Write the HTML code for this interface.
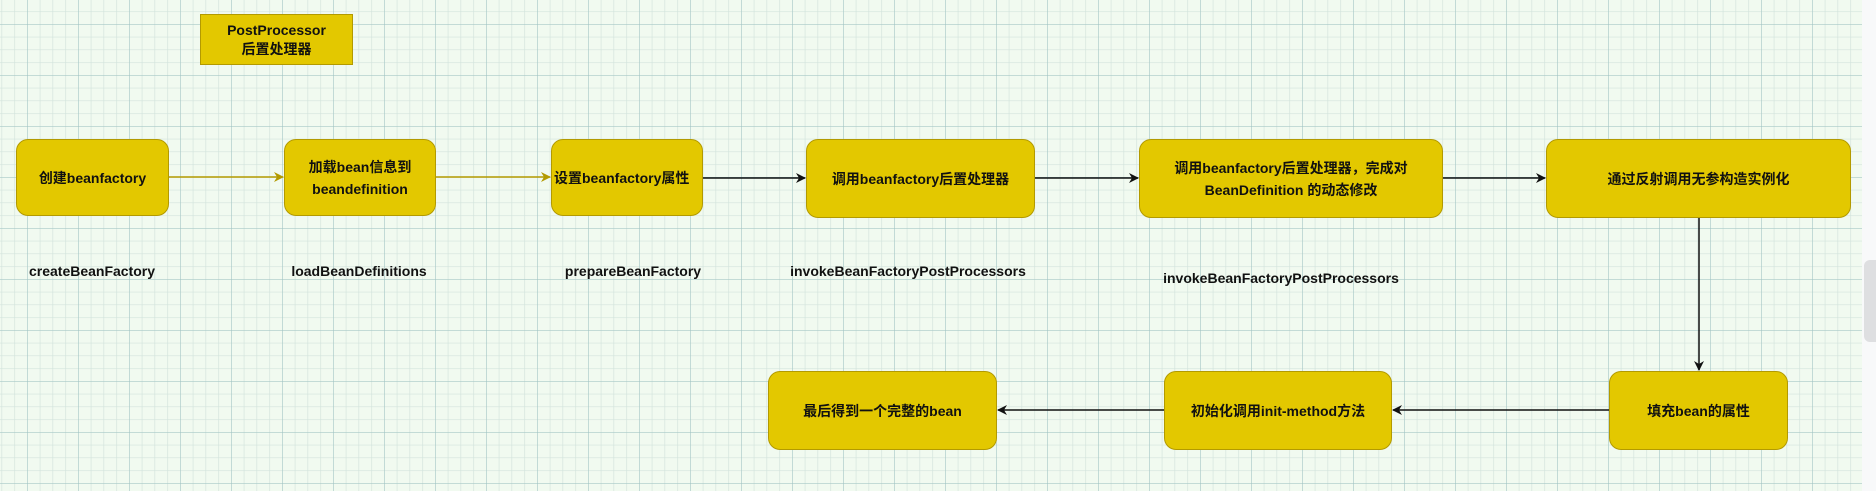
<!DOCTYPE html>
<html><head><meta charset="utf-8"><style>
body{margin:0;width:1876px;height:491px;overflow:hidden;background:#f8f9fa;font-family:"Liberation Sans","Noto Sans CJK SC",sans-serif;}
.b{position:absolute;background:#e3c800;border:1.5px solid #b39a00;border-radius:12px;box-sizing:border-box;display:flex;align-items:center;justify-content:center;text-align:center;font-weight:bold;font-size:14px;color:#111;line-height:22px;}
.l{position:absolute;font-size:14px;color:#111;transform:translateX(-50%);white-space:nowrap;font-weight:bold;}
</style></head><body>
<svg width="1862" height="491" style="position:absolute;left:0;top:0">
<defs>
<pattern id="mi" x="27" y="24" width="12.75" height="12.75" patternUnits="userSpaceOnUse"><path d="M0 0H12.75M0 0V12.75" stroke="#d2e3dc" stroke-width="1.3" fill="none"/></pattern>
<pattern id="ma" x="27" y="24" width="51" height="51" patternUnits="userSpaceOnUse"><path d="M0 0H51M0 0V51" stroke="#9cc2c2" stroke-width="1" fill="none"/></pattern>
<marker id="ay" markerWidth="10" markerHeight="10" refX="9" refY="5" orient="auto" markerUnits="userSpaceOnUse"><path d="M0 0L10 5L0 10L3 5z" fill="#b39a00"/></marker>
<marker id="ak" markerWidth="10" markerHeight="10" refX="9" refY="5" orient="auto" markerUnits="userSpaceOnUse"><path d="M0 0L10 5L0 10L3 5z" fill="#111"/></marker>
</defs>
<rect width="1862" height="491" fill="#f1faf0"/>
<rect width="1862" height="491" fill="url(#mi)"/>
<rect width="1862" height="491" fill="url(#ma)"/>
<g stroke-width="1.5" fill="none">
<line x1="169" y1="177" x2="283" y2="177" stroke="#b39a00" marker-end="url(#ay)"/>
<line x1="436" y1="177" x2="550" y2="177" stroke="#b39a00" marker-end="url(#ay)"/>
<line x1="703" y1="178" x2="805" y2="178" stroke="#111" marker-end="url(#ak)"/>
<line x1="1035" y1="178" x2="1138" y2="178" stroke="#111" marker-end="url(#ak)"/>
<line x1="1443" y1="178" x2="1545" y2="178" stroke="#111" marker-end="url(#ak)"/>
<line x1="1699" y1="218" x2="1699" y2="370" stroke="#111" marker-end="url(#ak)"/>
<line x1="1609" y1="410" x2="1393" y2="410" stroke="#111" marker-end="url(#ak)"/>
<line x1="1164" y1="410" x2="998" y2="410" stroke="#111" marker-end="url(#ak)"/>
</g>
</svg>
<div style="position:absolute;left:1864px;top:260px;width:12px;height:82px;background:#dedfe1;border-radius:6px 0 0 6px"></div>
<div class="b" style="left:200px;top:14px;width:153px;height:51px;border-radius:0;line-height:19px">PostProcessor<br>后置处理器</div>
<div class="b" style="left:16px;top:139px;width:153px;height:77px">创建beanfactory</div>
<div class="b" style="left:284px;top:139px;width:152px;height:77px">加载bean信息到<br>beandefinition</div>
<div class="b" style="left:551px;top:139px;width:152px;height:77px;justify-content:flex-start;padding-left:2px">设置beanfactory属性</div>
<div class="b" style="left:806px;top:139px;width:229px;height:79px">调用beanfactory后置处理器</div>
<div class="b" style="left:1139px;top:139px;width:304px;height:79px">调用beanfactory后置处理器，完成对<br>BeanDefinition 的动态修改</div>
<div class="b" style="left:1546px;top:139px;width:305px;height:79px">通过反射调用无参构造实例化</div>
<div class="b" style="left:768px;top:371px;width:229px;height:79px">最后得到一个完整的bean</div>
<div class="b" style="left:1164px;top:371px;width:228px;height:79px">初始化调用init-method方法</div>
<div class="b" style="left:1609px;top:371px;width:179px;height:79px">填充bean的属性</div>
<div class="l" style="left:92px;top:263px">createBeanFactory</div>
<div class="l" style="left:359px;top:263px">loadBeanDefinitions</div>
<div class="l" style="left:633px;top:263px">prepareBeanFactory</div>
<div class="l" style="left:908px;top:263px">invokeBeanFactoryPostProcessors</div>
<div class="l" style="left:1281px;top:270px">invokeBeanFactoryPostProcessors</div>
</body></html>
